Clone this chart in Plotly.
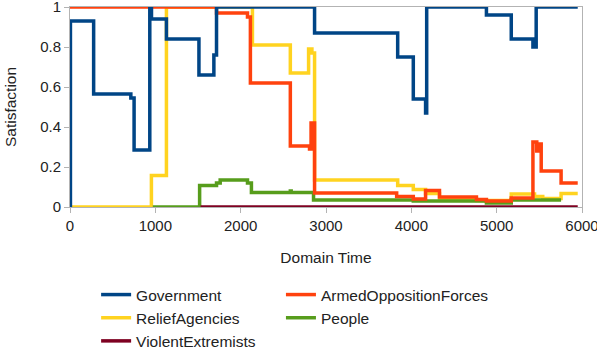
import plotly.graph_objects as go

# Government
gov_x = [0, 5, 277, 713, 751, 935, 955, 1130, 1511, 1686, 1717, 2866, 3840, 4023, 4167, 4180, 4880, 5171, 5425, 5463, 5950]
gov_y = [0, 0.93, 0.565, 0.545, 0.285, 1.0, 0.94, 0.84, 0.66, 0.76, 1.0, 0.87, 0.75, 0.54, 0.47, 1.0, 0.96, 0.84, 0.80, 1.0, 1.0]

# ArmedOppositionForces
aof_x = [0, 1717, 2080, 2114, 2582, 2807, 2825, 2866, 3828, 4023, 4167, 4330, 4763, 4880, 5171, 5425, 5470, 5490, 5522, 5755, 5950]
aof_y = [1.0, 0.97, 0.95, 0.62, 0.305, 0.29, 0.42, 0.07, 0.053, 0.04, 0.083, 0.05, 0.037, 0.03, 0.045, 0.325, 0.28, 0.315, 0.18, 0.12, 0.12]

# ReliefAgencies
rel_x = [0, 954, 1130, 2138, 2582, 2796, 2835, 2866, 3840, 4023, 4167, 4330, 4763, 5171, 5444, 5540, 5755, 5950]
rel_y = [0, 0.157, 1.0, 0.81, 0.67, 0.79, 0.77, 0.135, 0.108, 0.088, 0.068, 0.04, 0.032, 0.065, 0.052, 0.043, 0.068, 0.068]

# People
ppl_x = [970, 1519, 1717, 1760, 2080, 2126, 2582, 2592, 2854, 4023, 4880, 5171, 5755]
ppl_y = [0, 0.107, 0.12, 0.135, 0.12, 0.072, 0.08, 0.072, 0.035, 0.03, 0.02, 0.035, 0.035]

# ViolentExtremists
ve_x = [1530, 5950]
ve_y = [0, 0]

x_ticks = [0, 1000, 2000, 3000, 4000, 5000, 6000]
y_ticks = [0, 0.2, 0.4, 0.6, 0.8, 1]
y_tick_text = ["0", "0.2", "0.4", "0.6", "0.8", "1"]

FONT = "Liberation Sans, Arial, sans-serif"
W = 3.5

# (name, x, y, colour, legend rank, which legend column)
series = [
    ("ReliefAgencies", rel_x, rel_y, "#ffd320", 2, "legend"),
    ("People", ppl_x, ppl_y, "#579d1c", 2, "legend2"),
    ("ArmedOppositionForces", aof_x, aof_y, "#ff420e", 1, "legend2"),
    ("Government", gov_x, gov_y, "#004586", 1, "legend"),
    ("ViolentExtremists", ve_x, ve_y, "#7e0021", 3, "legend"),
]

fig = go.Figure()
for name, xs, ys, color, rank, leg in series:
    fig.add_trace(go.Scatter(
        x=xs, y=ys, name=name, mode="lines",
        line=dict(color=color, width=W, shape="hv"),
        legendrank=rank, legend=leg, cliponaxis=False,
    ))

leg_common = dict(
    orientation="v", xanchor="left", yanchor="top", tracegroupgap=0, itemwidth=30,
    font=dict(size=15.5, color="#222"), bgcolor="rgba(0,0,0,0)",
)

fig.update_layout(
    width=597, height=348,
    margin=dict(l=70, r=15, t=7, b=141, autoexpand=False),
    paper_bgcolor="white", plot_bgcolor="white",
    font=dict(family=FONT, size=15, color="#222"),
    showlegend=True,
    legend=dict(x=0.051, y=-0.355, **leg_common),
    legend2=dict(x=0.412, y=-0.355, **leg_common),
)
fig.update_xaxes(
    range=[0, 6000], tickvals=x_ticks, showgrid=False, zeroline=False,
    showline=True, linecolor="#b3b3b3", linewidth=1, mirror=True,
    ticks="outside", ticklen=5, tickcolor="#b3b3b3",
    automargin=False, ticklabeloverflow="allow",
    title=dict(text="Domain Time", font=dict(size=15.5), standoff=19),
)
fig.update_yaxes(
    range=[0, 1], tickvals=y_ticks, ticktext=y_tick_text, showgrid=False, zeroline=False,
    showline=True, linecolor="#b3b3b3", linewidth=1, mirror=True,
    ticks="outside", ticklen=5, tickcolor="#b3b3b3",
    automargin=False, ticklabeloverflow="allow",
    title=dict(text="Satisfaction", font=dict(size=15.5), standoff=19),
)

fig.write_html(
    "out.html",
    config={"displayModeBar": False},
    post_script="document.body.style.margin='0px';document.body.style.overflow='hidden';",
)
